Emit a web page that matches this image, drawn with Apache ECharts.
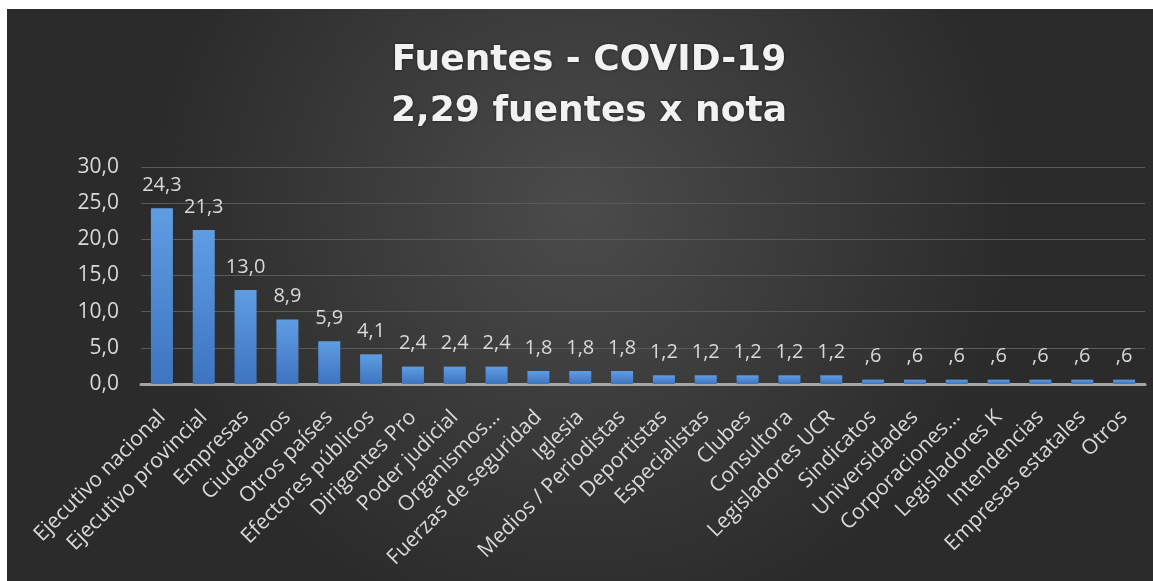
<!DOCTYPE html>
<html>
<head>
<meta charset="utf-8">
<script src="https://cdn.jsdelivr.net/npm/echarts@6/dist/echarts.min.js"></script>
<style>
  html, body { margin: 0; padding: 0; background: #ffffff; }
  #chart { position: absolute; left: 7px; top: 9px; width: 1146px; height: 572px; }
</style>
</head>
<body>
<div id="chart"></div>
<script>
// fuentes por categoria (%)
const categories = [
  "Ejecutivo nacional", "Ejecutivo provincial", "Empresas", "Ciudadanos",
  "Otros países", "Efectores públicos", "Dirigentes Pro", "Poder judicial",
  "Organismos…", "Fuerzas de seguridad", "Iglesia", "Medios / Periodistas",
  "Deportistas", "Especialistas", "Clubes", "Consultora", "Legisladores UCR",
  "Sindicatos", "Universidades", "Corporaciones…", "Legisladores K",
  "Intendencias", "Empresas estatales", "Otros"
]
const values = [
  24.3, 21.3, 13.0, 8.9, 5.9, 4.1, 2.4, 2.4, 2.4, 1.8, 1.8, 1.8,
  1.2, 1.2, 1.2, 1.2, 1.2, 0.6, 0.6, 0.6, 0.6, 0.6, 0.6, 0.6
]
const titleLines = ["Fuentes - COVID-19", "2,29 fuentes x nota"]

const txt = "#d9d9d9"
const font = "'Open Sans', 'Noto Sans', sans-serif"

// formato excel: coma decimal, sin cero inicial
function fmt(v) {
  let s = v.toFixed(1).replace(".", ",")
  if (s.startsWith("0,") && v !== 0) s = s.slice(1)
  return s
}

const chart = echarts.init(document.getElementById("chart"))

chart.setOption({
  backgroundColor: new echarts.graphic.RadialGradient(0.5, 0.35, 0.75, [
    { offset: 0, color: "#4b4b4b" },
    { offset: 1, color: "#2b2b2b" }
  ]),
  title: {
    text: titleLines.join("\n"),
    left: 577,
    top: 21,
    textAlign: "center",
    textStyle: {
      color: "#f2f2f2",
      fontFamily: "'DejaVu Sans', sans-serif",
      fontSize: 36,
      fontWeight: "bold",
      lineHeight: 51,
      textShadowColor: "rgba(0,0,0,0.6)",
      textShadowBlur: 3
    }
  },
  grid: { left: 134, right: 8, top: 158, bottom: 197 },
  xAxis: {
    type: "category",
    data: categories,
    axisLine: { lineStyle: { color: "#a6a6a6", width: 3 } },
    axisTick: { show: false },
    axisLabel: {
      interval: 0,
      rotate: 45,
      margin: 30,
      color: txt,
      fontFamily: font,
      fontSize: 21
    }
  },
  yAxis: {
    type: "value",
    min: 0,
    max: 30,
    interval: 5,
    axisLine: { show: false },
    axisTick: { show: false },
    axisLabel: {
      margin: 22,
      color: txt,
      fontFamily: font,
      fontSize: 21,
      formatter: (v) => v.toFixed(1).replace(".", ",")
    },
    splitLine: { lineStyle: { color: "#5a5a5a", width: 1 } }
  },
  series: [{
    type: "bar",
    data: values,
    barWidth: 22,
    itemStyle: {
      color: new echarts.graphic.LinearGradient(0, 0, 0, 1, [
        { offset: 0, color: "#5f9de3" },
        { offset: 1, color: "#3e74c0" }
      ])
    },
    label: {
      show: true,
      position: "top",
      distance: 13,
      color: txt,
      fontFamily: font,
      fontSize: 20,
      formatter: (p) => fmt(p.value)
    }
  }]
})
</script>
</body>
</html>
